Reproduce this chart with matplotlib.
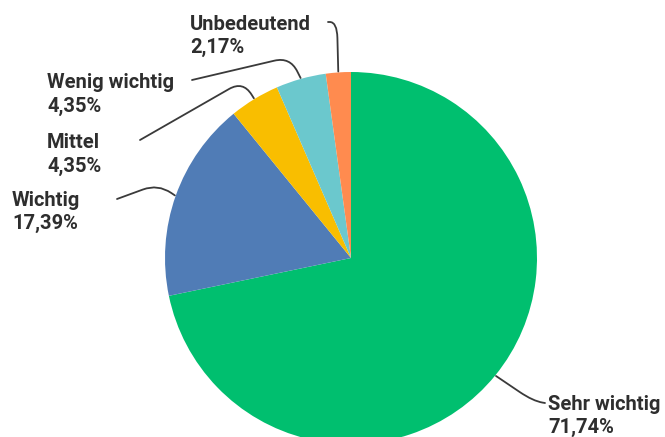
import numpy as np
import matplotlib
matplotlib.use("Agg")
import matplotlib.pyplot as plt
from matplotlib.path import Path
from matplotlib.patches import PathPatch

categories = ["Sehr wichtig", "Wichtig", "Mittel", "Wenig wichtig", "Unbedeutend"]
values = [71.74, 17.39, 4.35, 4.35, 2.17]
value_labels = ["71,74%", "17,39%", "4,35%", "4,35%", "2,17%"]
colors = ["#00BF6F", "#507CB6", "#F9BE00", "#6BC8CD", "#FF8B4F"]

W, H = 665, 437
fig = plt.figure(figsize=(W / 100, H / 100), dpi=100)
ax = fig.add_axes([0, 0, 1, 1])

cx, cy, R = 351, H - 258, 186
wedges, _ = ax.pie(values, colors=colors, startangle=90, counterclock=False,
                   center=(cx, cy), radius=R, frame=True,
                   wedgeprops=dict(linewidth=0))
ax.set_xlim(0, W)
ax.set_ylim(0, H)
ax.set_aspect("equal")
ax.axis("off")

# label layout (pixel coords, y down): text left x, first-line center y,
# line anchor near text, corner of leader
layout = {
    "Sehr wichtig": dict(tx=548, ty=404, anchor=(545, 403), corner=(533, 401)),
    "Wichtig": dict(tx=12, ty=200, anchor=(117, 199), corner=(158, 184)),
    "Mittel": dict(tx=47, ty=143, anchor=(140, 140), corner=(243, 81)),
    "Wenig wichtig": dict(tx=47, ty=83, anchor=(192, 80), corner=(290, 57)),
    "Unbedeutend": dict(tx=190, ty=24, anchor=(328, 22), corner=(337, 22)),
}

def px(p):
    return np.array([p[0], H - p[1]], dtype=float)

txt_color = "#2e2e2e"
for w, cat, lab in zip(wedges, categories, value_labels):
    L = layout[cat]
    ang = np.deg2rad((w.theta1 + w.theta2) / 2)
    P = np.array([cx + R * 1.005 * np.cos(ang), cy + R * 1.005 * np.sin(ang)])
    A = px(L["anchor"])
    C = px(L["corner"])
    r = 16.0
    d1 = (A - C); n1 = np.linalg.norm(d1)
    d2 = (P - C); n2 = np.linalg.norm(d2)
    r1 = min(r, n1 * 0.8)
    r2 = min(r, n2 * 0.8)
    P1 = C + d1 / n1 * r1
    P2 = C + d2 / n2 * r2
    verts = [A, P1, C, P2, P]
    codes = [Path.MOVETO, Path.LINETO, Path.CURVE3, Path.CURVE3, Path.LINETO]
    ax.add_patch(PathPatch(Path(verts, codes), fill=False, edgecolor="#3a3a3a",
                           lw=1.3, capstyle="round", joinstyle="round"))
    ax.text(L["tx"], H - L["ty"], cat, fontsize=14.5, fontweight="bold",
            family="Roboto", color=txt_color, ha="left", va="center")
    ax.text(L["tx"], H - L["ty"] - 23, lab, fontsize=14.5, fontweight="bold",
            family="Roboto", color=txt_color, ha="left", va="center")

fig.savefig("out.png", dpi=100, facecolor="white")
